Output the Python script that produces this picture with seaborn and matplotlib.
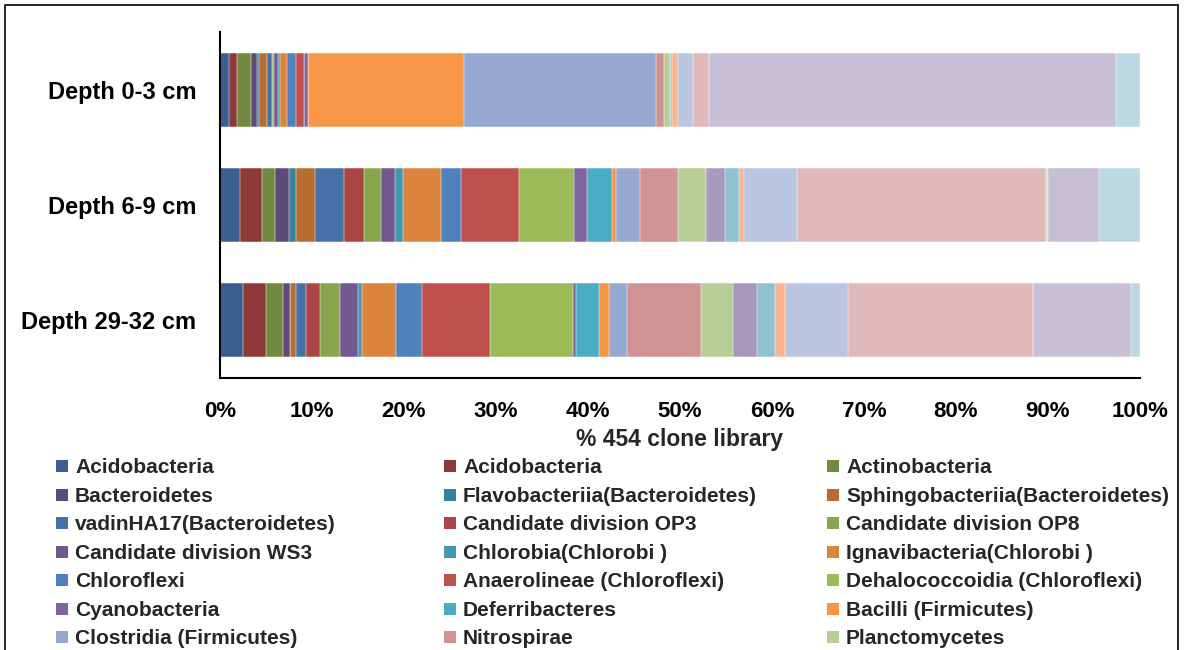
import matplotlib
matplotlib.use("Agg")
import matplotlib.pyplot as plt
from matplotlib.patches import Rectangle
import pandas as pd
import seaborn as sns

# Sediment layers (bar categories, top to bottom)
depths = ["Depth 0-3 cm", "Depth 6-9 cm", "Depth 29-32 cm"]

# Taxonomic groups, in stacking / legend order
taxa = [
    "Acidobacteria", "Acidobacteria", "Actinobacteria",
    "Bacteroidetes", "Flavobacteriia(Bacteroidetes)", "Sphingobacteriia(Bacteroidetes)",
    "vadinHA17(Bacteroidetes)", "Candidate division OP3", "Candidate division OP8",
    "Candidate division WS3", "Chlorobia(Chlorobi )", "Ignavibacteria(Chlorobi )",
    "Chloroflexi", "Anaerolineae (Chloroflexi)", "Dehalococcoidia (Chloroflexi)",
    "Cyanobacteria", "Deferribacteres", "Bacilli (Firmicutes)",
    "Clostridia (Firmicutes)", "Nitrospirae", "Planctomycetes",
    "Alphaproteobacteria", "Betaproteobacteria", "Deltaproteobacteria",
    "Epsilonproteobacteria", "Gammaproteobacteria", "Spirochaetes",
    "Unclassified Bacteria", "Others",
]

colors = [
    "#3A5F8E", "#8C3937", "#728A40",
    "#5E4A7A", "#32849B", "#B76D31",
    "#4571A6", "#AA4643", "#8AA54F",
    "#72598F", "#4198AF", "#DB843D",
    "#4F81BD", "#C0504D", "#9BBB59",
    "#8064A2", "#4BACC6", "#F79646",
    "#95A8CF", "#D19392", "#B9CD97",
    "#A99ABD", "#91C2D4", "#F9B58F",
    "#BAC6DF", "#E0BABA", "#D7E4BD",
    "#C7BFD5", "#BCD8E3",
]

# Share of the 454 clone library (%) per group and depth
pct_0_3 = [
    0.95, 0.90, 1.56, 0.65, 0.15, 0.94, 0.51, 0.00, 0.20, 0.47,
    0.15, 0.83, 0.90, 0.90, 0.00, 0.50, 0.00, 16.90, 20.90, 0.87,
    0.65, 0.00, 0.15, 0.65, 1.67, 1.70, 0.00, 44.30, 2.60,
]
pct_6_9 = [
    2.17, 2.39, 1.38, 1.52, 0.76, 2.07, 3.15, 2.25, 1.78, 1.52,
    0.91, 4.13, 2.14, 6.37, 5.94, 1.45, 2.68, 0.47, 2.54, 4.17,
    3.01, 2.14, 1.49, 0.54, 5.80, 27.00, 0.25, 5.54, 4.44,
]
pct_29_32 = [
    2.54, 2.43, 1.85, 0.80, 0.00, 0.62, 1.09, 1.59, 2.14, 1.99,
    0.40, 3.73, 2.75, 7.43, 8.99, 0.40, 2.50, 0.98, 1.96, 8.08,
    3.44, 2.64, 2.03, 0.98, 6.85, 20.20, 0.00, 10.60, 0.99,
]

x_ticks = [0, 10, 20, 30, 40, 50, 60, 70, 80, 90, 100]
x_tick_labels = ["0%", "10%", "20%", "30%", "40%", "50%",
                 "60%", "70%", "80%", "90%", "100%"]
x_title = "% 454 clone library"

sns.set_theme(style="white")
plt.rcParams["font.family"] = ["Liberation Sans", "DejaVu Sans"]
plt.rcParams["font.weight"] = "bold"

# Long-form table with running totals for stacking
rows = []
for depth, values in zip(depths, [pct_0_3, pct_6_9, pct_29_32]):
    total = 0.0
    for k, v in enumerate(values):
        total += v
        rows.append({"depth": depth, "series": k, "pct": v, "cum": total})
df = pd.DataFrame(rows)

W, H = 1184, 650
fig = plt.figure(figsize=(W / 100, H / 100), dpi=100)
ax = fig.add_axes([220 / W, 1 - 377.5 / H, 920 / W, 345 / H])

# Stack by overlaying cumulative bars, outermost segment first
for k in reversed(range(len(taxa))):
    sub = df[df["series"] == k]
    sns.barplot(data=sub, x="cum", y="depth", order=depths, orient="h",
                color=colors[k], saturation=1, width=0.635,
                edgecolor="white", linewidth=0.35, ax=ax)

ax.set_xlim(0, 100)
ax.set_ylim(2.5, -0.5)
ax.set_xticks(x_ticks)
ax.set_xticklabels(x_tick_labels, fontsize=16, fontweight="bold")
ax.tick_params(axis="x", length=0, pad=17, colors="black")
ax.tick_params(axis="y", length=0, pad=17, labelsize=17, colors="black")
for lbl in ax.get_yticklabels():
    lbl.set_fontweight("bold")
ax.set_ylabel("")
ax.set_xlabel(x_title, fontsize=16.5, fontweight="bold", labelpad=4)
for side in ["top", "right"]:
    ax.spines[side].set_visible(False)
for side in ["left", "bottom"]:
    ax.spines[side].set_color("black")
    ax.spines[side].set_linewidth(1.5)

# Legend laid out as a three-column grid, filled row by row;
# rows that would start below the chart area are left out
col_x = [56, 444, 827]
row0, pitch, box = 466, 28.5, 12
for i, (name, col) in enumerate(zip(taxa, colors)):
    r, c = divmod(i, 3)
    yc = row0 + r * pitch
    if yc + 8 > H:
        break
    fig.add_artist(Rectangle((col_x[c] / W, 1 - (yc + box / 2) / H),
                             box / W, box / H, transform=fig.transFigure,
                             facecolor=col, edgecolor="none"))
    fig.text((col_x[c] + 19) / W, 1 - (yc + 7.3) / H, name,
             fontsize=15, fontweight="bold", va="baseline", ha="left")

# Chart-area border
fig.add_artist(Rectangle((5 / W, -0.2), 1173 / W, 1.2 - 5 / H,
                         transform=fig.transFigure, fill=False,
                         edgecolor="black", linewidth=1.2))

fig.savefig("out.png", dpi=100)
